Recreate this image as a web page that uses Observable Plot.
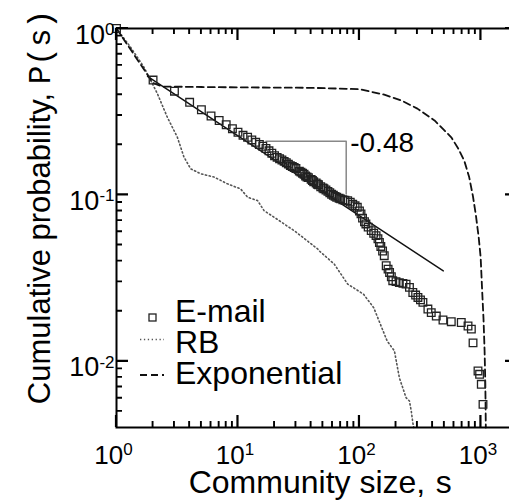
<!DOCTYPE html>
<html>
<head>
<meta charset="utf-8">
<script src="https://cdn.jsdelivr.net/npm/d3@7"></script>
<script src="https://cdn.jsdelivr.net/npm/@observablehq/plot@0.6"></script>
<style>
  html, body { margin: 0; padding: 0; background: #fff; overflow: hidden; }
  #chart { width: 509px; height: 502px; overflow: hidden; }
</style>
</head>
<body>
<div id="chart"></div>
<script>
// Cumulative distribution of community sizes, P(s), on log-log axes.

// E-mail network communities (open squares)
const emailSize = [1,2,3,4,5,6,7,8,9,10,11,12,13,14,15,16,17,18,19,20,21,22,23,24,25,26,27,28,29,30,
  32,33,34,35,36,37,38,40,41,42,44,45,46,48,50,51,53,55,57,59,61,63,65,68,70,73,76,80,84,88,92,96,100,
  103,106,110,113,118,125,131,137,142,146,150,155,160,166,172,177,183,188,
  200,213,228,242,258,275,290,303,318,333,366,390,429,487,570,689,783,834,861,946,975,1007,1040];
const emailProb = [1,0.49,0.42,0.36,0.325,0.298,0.28,0.264,0.25,0.238,
  0.228,0.222,0.214,0.207,0.201,0.196,0.19,0.184,0.178,0.172,
  0.168,0.165,0.162,0.159,0.156,0.153,0.15,0.148,0.146,0.144,
  0.139,0.137,0.135,0.133,0.13,0.128,0.127,0.124,0.122,0.12,0.118,0.116,0.115,
  0.112,0.11,0.109,0.107,0.105,0.103,0.101,0.0995,0.098,0.0968,0.0955,0.0946,0.0935,0.0928,0.0922,
  0.0905,0.088,0.086,0.0842,0.08,
  0.0769,0.0725,0.069,0.0669,0.064,0.061,0.0588,0.0569,0.0545,0.0518,0.049,0.046,0.0431,0.0375,0.0358,0.0342,0.0322,0.0305,
  0.0301,0.0297,0.0294,0.0291,0.0278,0.0259,0.025,0.0242,0.0234,0.0226,
  0.0206,0.0196,0.0187,0.0177,0.0173,0.0171,0.0163,0.0156,0.0129,0.00875,0.00835,0.00727,0.00551];

// Random-bipartition (RB) model (dotted)
const rbSize = [1,1.3,1.68,2.17,2.62,3.17,3.59,4.08,4.93,6.35,8.19,10.5,12,14.5,16.4,19.9,26.4,29,
  45.3,46.5,62,80,108,131,169,194,213,242,258,267,275,280];
const rbProb = [1,0.775,0.587,0.406,0.293,0.222,0.169,0.1435,0.134,0.128,0.1165,0.1087,0.0968,0.0924,0.0804,0.0733,0.0638,0.061,
  0.0473,0.0462,0.0384,0.0291,0.0253,0.021,0.01325,0.01154,0.00797,0.00604,0.00577,0.00502,0.00427,0.004];

// Exponential distribution (dashed)
const expSize = [1,2,2.4,5,10,40,100,160,220,300,415,570,650,730,800,860,910,960,995,1020,1050,1072,1087,1097];
const expProb = [1,0.47,0.448,0.445,0.443,0.44,0.432,0.4,0.37,0.33,0.28,0.222,0.19,0.16,0.128,0.098,0.075,0.055,0.042,0.028,0.018,0.0115,0.0073,0.004];

// Power-law fit of the E-mail data
const fitSlope = -0.48;
const fitAmp = 0.683;
const fitRange = [1.8, 490];
const bracketRange = [17, 77.8];
const bracketTop = 0.21;

// Axis ticks
const xMajor = [1, 10, 100, 1000];
const xMinor = [2,3,4,5,6,7,8,9,20,30,40,50,60,70,80,90,200,300,400,500,600,700,800,900];
const yMajor = [1, 0.1, 0.01];
const yMinor = [0.005,0.006,0.007,0.008,0.009,0.02,0.03,0.04,0.05,0.06,0.07,0.08,0.09,0.2,0.3,0.4,0.5,0.6,0.7,0.8,0.9];

const email = emailSize.map((s, i) => ({s, p: emailProb[i]}));
const rb = rbSize.map((s, i) => ({s, p: rbProb[i]}));
const expo = expSize.map((s, i) => ({s, p: expProb[i]}));
const fit = fitRange.map(s => ({s, p: fitAmp * Math.pow(s, fitSlope)}));
const bracketBottom = bracketTop * Math.pow(bracketRange[1] / bracketRange[0], fitSlope);
const bracket = [
  {s: bracketRange[0], p: bracketTop},
  {s: bracketRange[1], p: bracketTop},
  {s: bracketRange[1], p: bracketBottom}
];

const expo10 = d => String(Math.round(Math.log10(d)));

const plot = Plot.plot({
  width: 509,
  height: 502,
  marginTop: 28,
  marginLeft: 116,
  marginRight: -8,
  marginBottom: 75,
  x: {type: "log", domain: [1, 2000], axis: null},
  y: {type: "log", domain: [0.004, 1], axis: null},
  style: {fontFamily: "'Liberation Sans', Arial, sans-serif", background: "#fff", color: "#000"},
  marks: [
    Plot.line(rb, {x: "s", y: "p", stroke: "#555", strokeWidth: 1.6, strokeDasharray: "1.3,2.6"}),
    Plot.line(expo, {x: "s", y: "p", stroke: "#111", strokeWidth: 1.8, strokeDasharray: "7,4"}),
    Plot.line(fit, {x: "s", y: "p", stroke: "#111", strokeWidth: 1.4}),
    Plot.line(bracket, {x: "s", y: "p", stroke: "#888", strokeWidth: 1.5}),
    Plot.dot(email, {x: "s", y: "p", symbol: "square", r: 4.3, fill: "none", stroke: "#222", strokeWidth: 1.3}),
    Plot.text([{s: bracketRange[1], p: bracketTop, label: fitSlope.toFixed(2)}],
      {x: "s", y: "p", text: "label", textAnchor: "start", dx: 4, dy: 2, fontSize: 28, fill: "#000"}),
    Plot.frame({stroke: "#000", strokeWidth: 2}),
    Plot.text(xMajor, {x: d => d, frameAnchor: "bottom", text: d => "10^" + expo10(d),
      textAnchor: "middle", lineAnchor: "bottom", dx: -3, dy: 36, fontSize: 26, fill: "#000"}),
    Plot.text(yMajor, {y: d => d, frameAnchor: "left", text: d => "10^" + expo10(d),
      textAnchor: "end", lineAnchor: "bottom", dx: -2, dy: 15, fontSize: 27, fill: "#000"})
  ]
});

document.getElementById("chart").appendChild(plot);

const svg = d3.select(plot);
const sx = plot.scale("x"), sy = plot.scale("y");
const [xLeft, xRight] = sx.range;
const [yBottom, yTop] = sy.range;

// Inward ticks on all four sides, placed with the plot's own scales, as one path per tick size
const tickPath = (len, xt, yt) => {
  let d = "";
  for (const v of xt) {
    const px = sx.apply(v);
    d += `M${px},${yBottom}V${yBottom - len}M${px},${yTop}V${yTop + len}`;
  }
  for (const v of yt) {
    const py = sy.apply(v);
    d += `M${xLeft},${py}H${xLeft + len}M${xRight},${py}H${xRight - len}`;
  }
  return d;
};
svg.append("path").attr("d", tickPath(12, xMajor, yMajor))
  .attr("fill", "none").attr("stroke", "#000").attr("stroke-width", 2.2);
svg.append("path").attr("d", tickPath(6, xMinor, yMinor))
  .attr("fill", "none").attr("stroke", "#000").attr("stroke-width", 1.9);

// Superscript exponents on the decade labels
svg.selectAll("text").each(function () {
  if (!this.textContent.includes("^")) return;
  const [base, e] = this.textContent.split("^");
  this.textContent = base;
  d3.select(this).append("tspan").attr("dy", "-0.5em").attr("font-size", 17).text(e);
});

// Axis titles
const yTitle = svg.append("text")
  .attr("transform", "translate(50,207) rotate(-90)")
  .attr("text-anchor", "middle")
  .attr("font-size", 31)
  .attr("fill", "#000")
  .text("Cumulative probability, ");
yTitle.append("tspan").attr("font-family", "'Liberation Mono', monospace").text("P(s)");

const xTitle = svg.append("text")
  .attr("x", 321).attr("y", 493)
  .attr("text-anchor", "middle")
  .attr("font-size", 32)
  .attr("fill", "#000")
  .text("Community size, ");
xTitle.append("tspan").attr("font-family", "'Liberation Mono', monospace").text("s");

// Legend
const legend = svg.append("g").attr("font-size", 32).attr("fill", "#000").attr("text-anchor", "start");
const items = [
  {label: "E-mail", y: 322, key: "square", ky: 317.5},
  {label: "RB", y: 353, key: "dotted", ky: 339.5},
  {label: "Exponential", y: 383.5, key: "dashed", ky: 375}
];
for (const it of items) {
  if (it.key === "square") {
    legend.append("rect").attr("x", 149).attr("y", it.ky - 3.5).attr("width", 7).attr("height", 7)
      .attr("fill", "none").attr("stroke", "#222").attr("stroke-width", 1.3);
  } else {
    legend.append("line").attr("x1", 140).attr("x2", 164).attr("y1", it.ky).attr("y2", it.ky)
      .attr("stroke", it.key === "dotted" ? "#555" : "#111")
      .attr("stroke-width", it.key === "dotted" ? 1.6 : 1.8)
      .attr("stroke-dasharray", it.key === "dotted" ? "1.3,2.6" : "7,4");
  }
  legend.append("text").attr("x", 175).attr("y", it.y).text(it.label);
}
</script>
</body>
</html>
